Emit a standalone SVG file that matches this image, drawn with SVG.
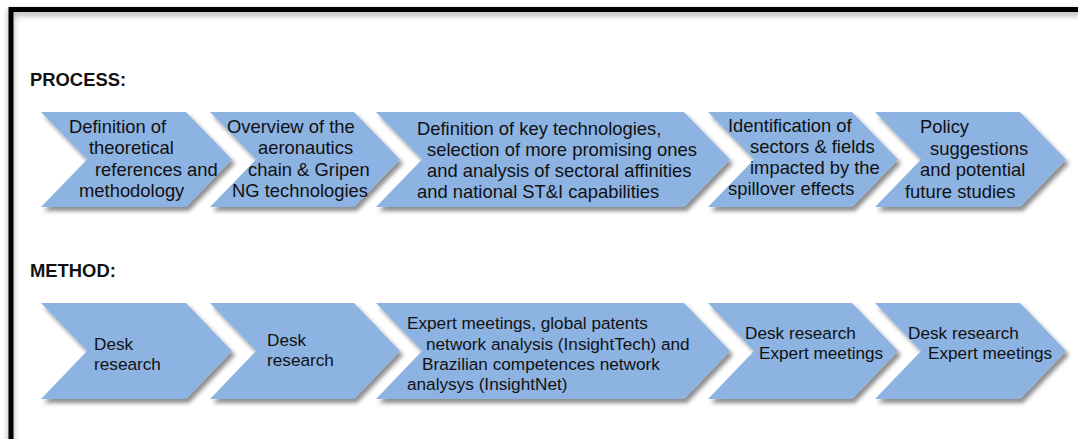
<svg xmlns="http://www.w3.org/2000/svg" width="1078" height="439" viewBox="0 0 1078 439">
<defs>
<filter id="sh" x="-10%" y="-10%" width="130%" height="140%">
<feDropShadow dx="3" dy="4" stdDeviation="2" flood-color="#000" flood-opacity="0.45"/>
</filter>
<filter id="fsh" x="-5%" y="-5%" width="110%" height="120%">
<feDropShadow dx="0" dy="3" stdDeviation="3" flood-color="#000" flood-opacity="0.35"/>
</filter>
</defs>
<style>
.chev{fill:#8DB3E2;filter:url(#sh)}
.t1{font-family:"Liberation Sans",Arial,sans-serif;font-size:18.4px;fill:#111}
.t2{font-family:"Liberation Sans",Arial,sans-serif;font-size:17.2px;fill:#111}
.lbl{font-family:"Liberation Sans",Arial,sans-serif;font-size:18.4px;font-weight:bold;fill:#111}
</style>
<rect x="0" y="0" width="1078" height="439" fill="#fff"/>
<g id="frame" filter="url(#fsh)">
<rect x="11" y="9.5" width="1200" height="600" fill="none" stroke="#000" stroke-width="5"/>
</g>
<g id="labels">
<text class="lbl" x="30" y="86">PROCESS:</text>
<text class="lbl" x="30" y="277">METHOD:</text>
</g>
<g id="connectors"/>
<g id="p1">
<polygon class="chev" points="41,112 186,112 232,159.5 186,207 41,207 87,159.5"/>
<text class="t1"><tspan x="69" y="133">Definition of</tspan><tspan x="89" y="154">theoretical</tspan><tspan x="95" y="176">references and</tspan><tspan x="79" y="197">methodology</tspan></text>
</g>
<g id="p2">
<polygon class="chev" points="210,112 354,112 400,159.5 354,207 210,207 256,159.5"/>
<text class="t1"><tspan x="227" y="133">Overview of the</tspan><tspan x="258" y="154">aeronautics</tspan><tspan x="248" y="176">chain &amp; Gripen</tspan><tspan x="232" y="197">NG technologies</tspan></text>
</g>
<g id="p3">
<polygon class="chev" points="376,112 684,112 730,159.5 684,207 376,207 422,159.5"/>
<text class="t1"><tspan x="417" y="135">Definition of key technologies,</tspan><tspan x="427" y="156">selection of more promising ones</tspan><tspan x="427" y="177">and analysis of sectoral affinities</tspan><tspan x="417" y="198">and national ST&amp;I capabilities</tspan></text>
</g>
<g id="p4">
<polygon class="chev" points="708,112 852,112 898,159.5 852,207 708,207 754,159.5"/>
<text class="t1"><tspan x="728" y="132">Identification of</tspan><tspan x="750" y="153">sectors &amp; fields</tspan><tspan x="750" y="174">impacted by the</tspan><tspan x="728" y="195">spillover effects</tspan></text>
</g>
<g id="p5">
<polygon class="chev" points="875,112 1020,112 1066,159.5 1020,207 875,207 921,159.5"/>
<text class="t1"><tspan x="920" y="133">Policy</tspan><tspan x="930" y="155">suggestions</tspan><tspan x="920" y="176">and potential</tspan><tspan x="905" y="198">future studies</tspan></text>
</g>
<g id="m1">
<polygon class="chev" points="41,303 186,303 232,351 186,399 41,399 87,351"/>
<text class="t2"><tspan x="94" y="350">Desk</tspan><tspan x="94" y="370">research</tspan></text>
</g>
<g id="m2">
<polygon class="chev" points="210,303 354,303 400,351 354,399 210,399 256,351"/>
<text class="t2"><tspan x="267" y="346">Desk</tspan><tspan x="267" y="366">research</tspan></text>
</g>
<g id="m3">
<polygon class="chev" points="376,303 684,303 730,351 684,399 376,399 422,351"/>
<text class="t2"><tspan x="407" y="329">Expert meetings, global patents</tspan><tspan x="426" y="350">network analysis (InsightTech) and</tspan><tspan x="422" y="370">Brazilian competences network</tspan><tspan x="407" y="390">analysys (InsightNet)</tspan></text>
</g>
<g id="m4">
<polygon class="chev" points="708,303 852,303 898,351 852,399 708,399 754,351"/>
<text class="t2"><tspan x="745" y="339">Desk research</tspan><tspan x="759" y="359">Expert meetings</tspan></text>
</g>
<g id="m5">
<polygon class="chev" points="875,303 1020,303 1066,351 1020,399 875,399 921,351"/>
<text class="t2"><tspan x="908" y="339">Desk research</tspan><tspan x="928" y="359">Expert meetings</tspan></text>
</g>
</svg>
